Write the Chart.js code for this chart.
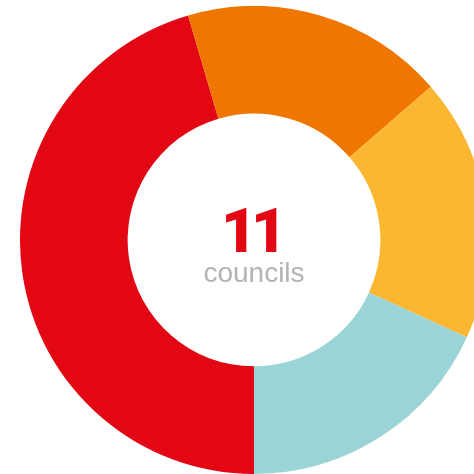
<!DOCTYPE html>
<html>
<head>
<meta charset="utf-8">
<script src="https://cdn.jsdelivr.net/npm/chart.js@4"></script>
<style>
  html, body { margin: 0; padding: 0; background: #fff; overflow: hidden; }
  body { width: 474px; height: 474px; position: relative; }
  #grafico { position: absolute; left: 20px; top: 6px; }
</style>
</head>
<body>
<canvas id="grafico" width="468" height="468"></canvas>
<script>
const categorias = ["A", "B", "C", "D"];
const valores = [5, 2, 2, 2];
const colores = ["#E30613", "#EE7601", "#FBB731", "#9BD4D6"];
const total = "11";
const etiqueta = "councils";

const textoCentro = {
    id: "textoCentro",
    afterDraw(chart) {
        const { ctx } = chart;
        const arco = chart.getDatasetMeta(0).data[0];
        const x = arco.x;
        const y = arco.y;
        ctx.save();
        ctx.textAlign = "center";
        ctx.textBaseline = "alphabetic";
        ctx.fillStyle = "#E30613";
        ctx.font = "900 62px Roboto";
        ctx.letterSpacing = "-6px";
        ctx.fillText(total, x - 3, y + 12);
        ctx.letterSpacing = "0px";
        ctx.fillStyle = "#B3B3B3";
        ctx.font = "28px Arial";
        ctx.fillText(etiqueta, x, y + 42);
        ctx.restore();
    },
};

const configGrafico = {
    type: "doughnut",
    data: {
        labels: categorias,
        datasets: [
            {
                data: valores,
                backgroundColor: colores,
                borderWidth: 0,
            },
        ],
    },
    options: {
        responsive: false,
        animation: false,
        rotation: 180,
        cutout: "54%",
        plugins: {
            legend: { display: false },
            tooltip: { enabled: false },
        },
    },
    plugins: [textoCentro],
};

new Chart(document.getElementById("grafico"), configGrafico);
</script>
</body>
</html>
